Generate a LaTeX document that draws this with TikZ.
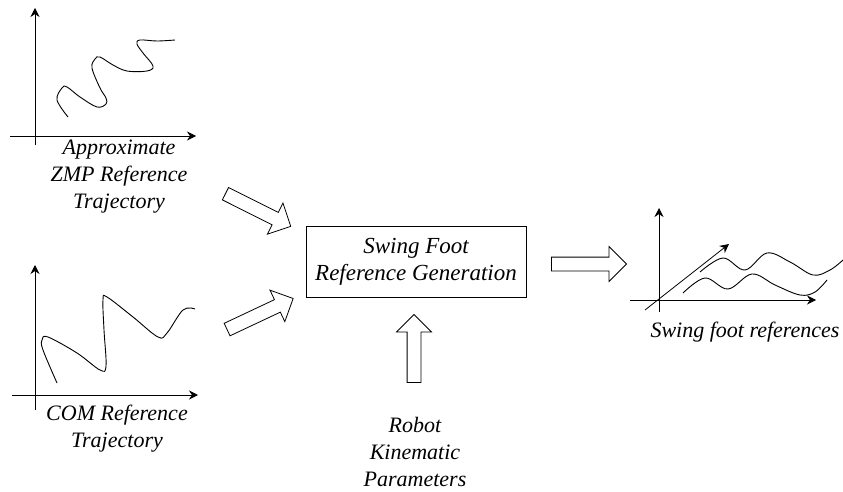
\documentclass[tikz,border=0pt]{standalone}
\usepackage{fontspec}
\setmainfont{Liberation Serif}
\usetikzlibrary{shapes.arrows,arrows.meta}
\newcommand{\lbl}{\fontsize{22}{27}\selectfont\itshape}
\newcommand{\blbl}{\fontsize{23}{27}\selectfont\itshape}
\tikzset{
  axis/.style={line width=0.8pt,-{Stealth[length=9pt,width=9pt]}},
  curve/.style={line width=0.9pt,smooth,tension=0.6},
  hollow/.style={single arrow,draw,line width=0.8pt,inner sep=6.5pt,
    single arrow head extend=10.5pt,minimum height=#1,anchor=center},
  txt/.style={align=center,font=\lbl}
}
\begin{document}
\begin{tikzpicture}[x=1pt,y=-1pt]
   \useasboundingbox (0,0) rectangle (843,492);
   % ZMP graph
   \draw[axis] (35,145) -- (35,8);
   \draw[axis] (10,136) -- (196,136);
   \draw[curve] plot coordinates {(68,117) (57,100) (62,88) (67,87) (80,97) (97,107)
     (106,104) (106,98) (100,88) (92,68) (95,59) (100,57) (113,65) (127,71) (147,71)
     (153,66) (143,53) (137,44) (140,40) (157,41) (175,40)};
   \node[txt] (zmp) at (119,177) {Approximate\\ZMP Reference\\Trajectory};
   % COM graph
   \draw[axis] (35,410) -- (35,265);
   \draw[axis] (12,395) -- (198,395);
   \draw[curve] plot coordinates {(57,383) (43,350) (42,340) (48,337) (77,353)
     (100,370) (106,366) (104,330) (103,300) (107,297) (133,317) (158,337) (167,333)
     (183,310) (195,309)};
   \node[txt] (com) at (117,429) {COM Reference\\Trajectory};
   % block
   \node[draw,line width=0.8pt,inner sep=0pt,minimum width=220pt,minimum height=71pt,
     align=center,font=\blbl] (gen) at (416,261.5) {Swing Foot\\Reference Generation};
   \node[hollow=73pt,rotate=-26.6] (a1) at (255,208.5) {};
   \node[hollow=73pt,rotate=25.2] (a2) at (257,315.5) {};
   \node[hollow=68pt,rotate=90] (a3) at (414,352) {};
   \node[hollow=75pt] (a4) at (585.5,264) {};
   \node[txt] (robot) at (415,452) {Robot\\Kinematic\\Parameters};
   % swing foot graph
   \draw[axis] (659,312) -- (659,208);
   \draw[axis] (630,300) -- (816,300);
   \draw[axis] (645,310) -- (729,244);
   \draw[curve] plot coordinates {(700,272) (723,258) (745,270) (767,253) (790,262)
     (813,275) (830,270) (843,260)};
   \draw[curve] plot coordinates {(683,293) (705,278) (728,289) (752,274) (775,285)
     (800,295) (815,292) (827,280)};
   \node[txt] (refs) at (745,332) {Swing foot references};
\end{tikzpicture}
\end{document}
